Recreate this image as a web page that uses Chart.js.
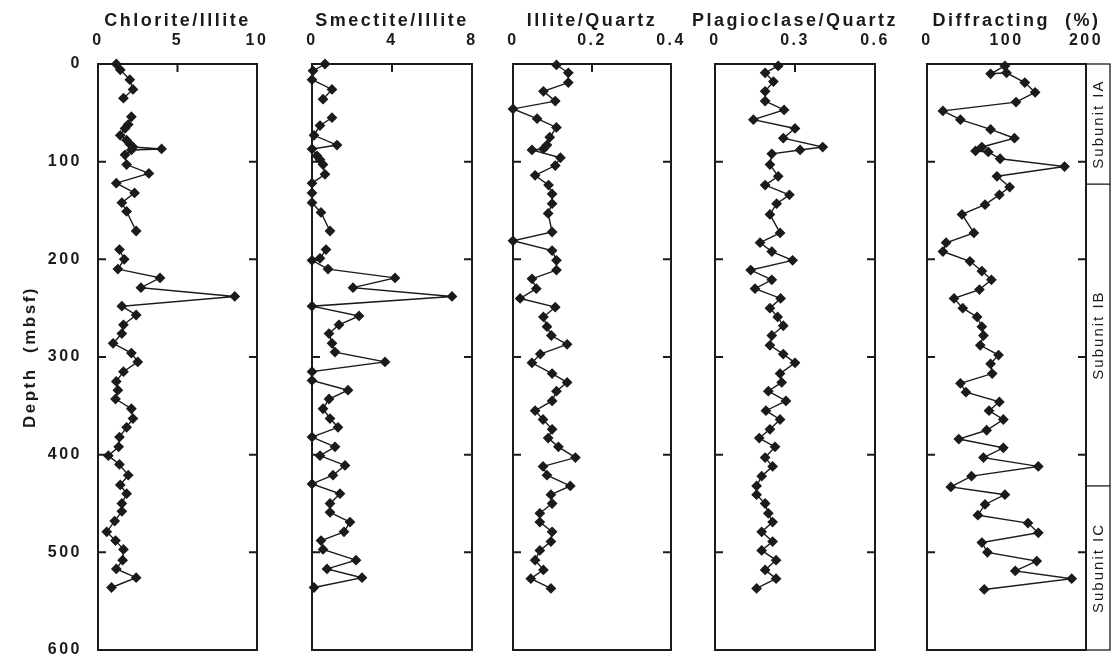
<!DOCTYPE html>
<html>
<head>
<meta charset="utf-8">
<script src="https://cdn.jsdelivr.net/npm/chart.js@4.4.1/dist/chart.umd.min.js"></script>
<style>
  html, body { margin: 0; padding: 0; background: #fff; }
  #wrap { position: relative; width: 1112px; height: 661px; overflow: hidden; }
  .panel { position: absolute; top: 0; height: 661px; }
</style>
</head>
<body>
<div id="wrap"></div>
<script>
// depth in mbsf; a null value marks a gap in the record
const chloriteDepth = [0,6,16,26,35,45,54,62,66,73,78,82,85,87,88,93,103,112,122,132,142,151,171,181,190,200,210,219,229,238,248,257,267,276,286,296,305,315,325,334,343,353,363,372,382,392,401,410,421,431,440,450,458,468,479,488,497,508,517,526,536];
const chloriteRatio = [1.15,1.4,2.0,2.2,1.6,null,2.1,1.9,1.7,1.4,1.8,2.0,2.2,4.0,2.1,1.7,1.8,3.2,1.15,2.3,1.5,1.8,2.4,null,1.35,1.65,1.25,3.9,2.7,8.6,1.5,2.4,1.6,1.5,0.95,2.1,2.5,1.6,1.15,1.25,1.1,2.1,2.2,1.8,1.35,1.3,0.65,1.35,1.9,1.4,1.8,1.5,1.5,1.05,0.55,1.1,1.6,1.55,1.15,2.4,0.85];

const smectiteDepth = [0,7,16,26,36,45,55,63,73,83,87,94,98,103,113,122,132,142,152,171,181,190,199,201,210,219,229,238,248,258,267,276,286,295,305,315,324,334,343,353,363,372,382,392,401,411,421,430,440,450,459,469,479,488,497,508,517,526,536];
const smectiteRatio = [0.65,0.05,0,1.0,0.55,null,1.0,0.4,0.1,1.25,0,0.25,0.4,0.55,0.65,0,0,0,0.45,0.9,null,0.7,0.4,0,0.8,4.15,2.05,7.0,0,2.35,1.35,0.85,1.0,1.15,3.65,0,0,1.8,0.85,0.55,0.9,1.3,0,1.15,0.4,1.65,1.05,0,1.4,0.9,0.9,1.9,1.6,0.45,0.55,2.2,0.75,2.5,0.1];

const illiteDepth = [1,9,19,28,38,46,56,65,75,83,87,88,96,104,114,124,133,143,153,172,181,191,201,211,220,230,240,249,259,269,278,287,297,306,317,326,335,345,355,364,374,383,392,403,412,421,432,441,450,460,469,479,489,498,508,518,527,537];
const illiteRatio = [0.11,0.14,0.14,0.077,0.107,0,0.061,0.11,0.093,0.086,0.077,0.048,0.12,0.107,0.056,0.09,0.099,0.099,0.089,0.099,0,0.099,0.11,0.11,0.048,0.059,0.018,0.107,0.077,0.086,0.097,0.137,0.069,0.048,0.099,0.137,0.11,0.099,0.056,0.076,0.099,0.089,0.115,0.158,0.076,0.086,0.145,0.096,0.099,0.068,0.068,0.099,0.096,0.068,0.056,0.077,0.045,0.096];

const plagioDepth = [2,9,18,28,38,47,57,66,76,85,88,92,103,115,124,134,143,154,173,183,192,201,211,221,230,240,250,259,268,278,288,297,306,317,326,335,345,355,364,374,383,392,403,412,422,432,441,450,460,469,479,489,498,508,518,527,537];
const plagioRatio = [0.237,0.188,0.219,0.188,0.188,0.259,0.144,0.3,0.256,0.404,0.319,0.213,0.206,0.237,0.188,0.279,0.231,0.206,0.244,0.169,0.213,0.291,0.134,0.213,0.15,0.246,0.206,0.235,0.256,0.213,0.206,0.256,0.3,0.244,0.25,0.2,0.266,0.191,0.244,0.206,0.166,0.225,0.188,0.216,0.175,0.156,0.156,0.188,0.2,0.216,0.175,0.216,0.175,0.229,0.188,0.229,0.156];

const diffDepth = [2,10,9,19,29,39,48,57,67,76,85,89,90,97,105,115,126,134,144,154,173,183,192,202,212,221,231,240,250,259,269,278,288,298,307,317,327,336,346,355,364,375,384,393,403,412,422,433,441,451,462,470,480,490,500,509,519,527,538];
const diffPct = [98,80,100,123,136,112,20,42,80,110,69,61,77,92,173,88,104,91,73,44,59,24,20,54,69,81,66,34,45,63,69,71,67,90,80,82,42,49,91,78,96,75,40,96,71,140,56,30,98,73,64,127,140,69,76,138,111,182,72];

const subunitTops = [0, 123, 432];
const subunitNames = ['Subunit IA', 'Subunit IB', 'Subunit IC'];

const ink = '#1b1b1b';
const face = '"Liberation Sans", Arial, sans-serif';

// frame box and inward tick marks, like the printed figure
const frame = {
  id: 'frame',
  beforeDraw(chart) { chart.ctx.letterSpacing = '2.5px'; },
  beforeDatasetsDraw(chart) {
    const { ctx, chartArea: a, scales: { x, y, y2 } } = chart;
    ctx.save();
    ctx.strokeStyle = ink;
    ctx.lineWidth = 2;
    ctx.strokeRect(a.left, a.top, a.right - a.left, a.bottom - a.top);
    ctx.beginPath();
    y.ticks.forEach(t => {
      if (t.value <= y.min || t.value >= y.max) return;
      const py = y.getPixelForValue(t.value);
      ctx.moveTo(a.left, py); ctx.lineTo(a.left + 8, py);
    });
    y2.ticks.forEach(t => {
      if (t.value <= y2.min || t.value >= y2.max) return;
      const py = y2.getPixelForValue(t.value);
      ctx.moveTo(a.right, py); ctx.lineTo(a.right - 8, py);
    });
    x.ticks.forEach(t => {
      if (t.value <= x.min || t.value >= x.max) return;
      const px = x.getPixelForValue(t.value);
      ctx.moveTo(px, a.top); ctx.lineTo(px, a.top + 8);
    });
    ctx.stroke();
    ctx.restore();
  }
};

// lithologic subunit column on the right of the last panel
const subunitColumn = {
  id: 'subunitColumn',
  afterDraw(chart) {
    const { ctx, chartArea: a, scales: { y } } = chart;
    const x0 = a.right, x1 = a.right + 24;
    ctx.save();
    ctx.strokeStyle = ink;
    ctx.lineWidth = 1.3;
    ctx.strokeRect(x0, a.top, x1 - x0, a.bottom - a.top);
    ctx.fillStyle = ink;
    ctx.font = '15px ' + face;
    ctx.letterSpacing = '2px';
    ctx.textAlign = 'center';
    ctx.textBaseline = 'middle';
    subunitTops.forEach((top, i) => {
      const bottom = i + 1 < subunitTops.length ? subunitTops[i + 1] : y.max;
      const y0 = y.getPixelForValue(top), y1 = y.getPixelForValue(bottom);
      if (i > 0) {
        ctx.beginPath(); ctx.moveTo(x0, y0); ctx.lineTo(x1, y0); ctx.stroke();
      }
      ctx.save();
      ctx.translate((x0 + x1) / 2 + 1, (y0 + y1) / 2);
      ctx.rotate(-Math.PI / 2);
      ctx.fillText(subunitNames[i], 0, 0);
      ctx.restore();
    });
    ctx.restore();
  }
};

const panels = [
  { title: 'Chlorite/Illite', depth: chloriteDepth, values: chloriteRatio, max: 10, step: 5, frameLeft: 98, frameRight: 257 },
  { title: 'Smectite/Illite', depth: smectiteDepth, values: smectiteRatio, max: 8, step: 4, frameLeft: 312, frameRight: 472 },
  { title: 'Illite/Quartz', depth: illiteDepth, values: illiteRatio, max: 0.4, step: 0.2, frameLeft: 513, frameRight: 671 },
  { title: 'Plagioclase/Quartz', depth: plagioDepth, values: plagioRatio, max: 0.6, step: 0.3, frameLeft: 715, frameRight: 875 },
  { title: 'Diffracting  (%)', depth: diffDepth, values: diffPct, max: 200, step: 100, frameLeft: 927, frameRight: 1086 }
];

const wrap = document.getElementById('wrap');

panels.forEach((p, i) => {
  const first = i === 0;
  const last = i === panels.length - 1;
  const padLeft = first ? 98 : 30;
  const padRight = first ? 12 : (last ? 50 : 30);

  const box = document.createElement('div');
  box.className = 'panel';
  box.style.left = (p.frameLeft - padLeft) + 'px';
  box.style.width = (p.frameRight - p.frameLeft + padLeft + padRight) + 'px';
  const canvas = document.createElement('canvas');
  box.appendChild(canvas);
  wrap.appendChild(box);

  const depthAxis = (side, width, showLabels) => ({
    type: 'linear',
    position: side,
    reverse: true,
    min: 0,
    max: 600,
    afterFit: s => { s.width = width; s.paddingTop = 0; s.paddingBottom = 0; },
    ticks: { display: showLabels, stepSize: 100, color: ink, font: { family: face, size: 16, weight: 'bold' }, padding: 16 },
    grid: { display: false, drawTicks: false },
    border: { display: false },
    title: {
      display: showLabels,
      text: 'Depth  (mbsf)',
      color: ink,
      font: { family: face, size: 17, weight: 'bold' },
      padding: { top: 20, bottom: 0 }
    }
  });

  new Chart(canvas, {
    type: 'scatter',
    data: {
      datasets: [{
        data: p.depth.map((d, k) => ({ x: p.values[k], y: d })),
        showLine: true,
        borderColor: ink,
        borderWidth: 1.4,
        backgroundColor: ink,
        pointStyle: 'rectRot',
        pointRadius: 4.4,
        pointHoverRadius: 4.4,
        tension: 0,
        clip: false
      }]
    },
    options: {
      responsive: true,
      maintainAspectRatio: false,
      animation: false,
      events: [],
      layout: { padding: { left: 0, right: 0, top: 0, bottom: 11 } },
      plugins: {
        legend: { display: false },
        tooltip: { enabled: false },
        title: {
          display: true,
          text: p.title,
          fullSize: !first,
          color: ink,
          font: { family: face, size: 18, weight: 'bold' },
          padding: { top: 10, bottom: 0 }
        }
      },
      scales: {
        x: {
          type: 'linear',
          position: 'top',
          min: 0,
          max: p.max,
          afterFit: s => { s.height = 32.4; s.paddingLeft = 0; s.paddingRight = 0; },
          ticks: { stepSize: p.step, color: ink, font: { family: face, size: 16, weight: 'bold' }, padding: 13.4, maxRotation: 0 },
          grid: { display: false, drawTicks: false },
          border: { display: false }
        },
        y: depthAxis('left', padLeft, first),
        y2: depthAxis('right', padRight, false)
      }
    },
    plugins: last ? [frame, subunitColumn] : [frame]
  });
});
</script>
</body>
</html>
